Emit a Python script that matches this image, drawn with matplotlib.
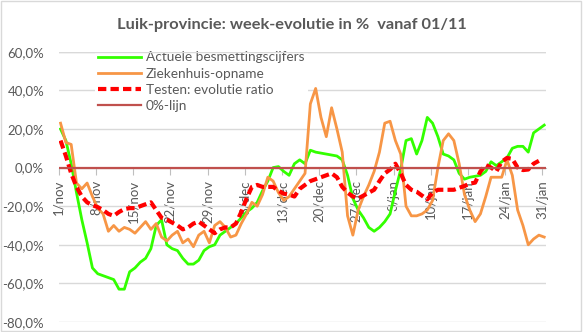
import matplotlib
matplotlib.use('Agg')
import matplotlib.pyplot as plt
import matplotlib.ticker as ticker
from matplotlib.patches import Rectangle
import numpy as np

plt.rcParams['font.family'] = ['Lato', 'DejaVu Sans']

# day 0 = 1 november, one value per day up to 31 januari
week_labels = ['1/nov', '8/nov', '15/nov', '22/nov', '29/nov', '6/dec', '13/dec',
               '20/dec', '27/dec', '3/jan', '10/jan', '17/jan', '24/jan', '31/jan']

besmettingen = [20, 14, 2, -13, -27, -39, -52, -55, -56, -57,
                -58, -63, -63, -54, -52, -49, -47, -42, -30, -27,
                -40, -42, -43, -47, -50, -50, -48, -43, -41, -40,
                -35, -33, -31, -29, -26, -23, -21, -18, -12, -7,
                0, 0.5, -2, -4, 2, 4, 2, 9, 8, 7.5,
                7, 6.5, 6, 4, -4, -16, -22, -26, -31, -33,
                -31, -28, -24, -12, -1, 14, 15, 7, 14, 26,
                23, 16, 7, 6, 4, -3, -6, -5, -4.5, -4,
                -2, 3, 1, 3, 5, 10, 11, 11, 8, 18,
                20, 22]

ziekenhuis = [23, 13, 12, -8, -11, -8, -15, -21, -24, -33,
              -30, -33, -31, -32, -34, -31, -28, -32, -29, -36,
              -38, -35, -33, -39, -37, -41, -35, -33, -39, -30,
              -28, -31, -36, -35, -29, -24, -18, -20, -14, -5,
              -7, -13, -17, -15, -11, -7, -3, 33, 41, 26,
              16, 31, 20, 8, -25, -35, -22, -15, -9, -2,
              8, 23, 24, 14, 7, -20, -25, -25, -24, -22,
              -17, 0, 14, 17.5, 14, 2, -14, -22, -28, -24,
              -15, -5, -5, -5, 4, -4, -22, -30, -40, -37,
              -35, -36]

testen = [14, 6, -3, -10, -15, -18, -19.5, -20.5, -22, -24,
          -25, -23, -21.5, -21, -21, -20, -19, -18, -22, -26,
          -27, -28.5, -30, -32, -31, -29, -28, -30, -32, -34,
          -32, -31, -31, -29, -23, -16, -10, -9, -10, -10,
          -10, -12, -13.5, -14, -15, -11, -9, -7, -6, -5,
          -4, -3, -5, -10, -13, -15, -16, -14.5, -13, -11.5,
          -7, -3, -1, 2, -3, -9, -11.5, -12.5, -14.5, -16.5,
          -13, -11.5, -11.5, -11.5, -11.5, -10.5, -9.5, -8.3, -7.8, -2,
          1.3, 0, -2, 3, 5, 4.5, 0, -1.3, -1, 2,
          3.5, np.nan]

nul_lijn = 0

days = np.arange(len(besmettingen)) + 0.35

fig = plt.figure(figsize=(5.84, 3.32), dpi=100)
ax = fig.add_axes([0.1005, 0.0301, 0.834, 0.814])

ax.plot(days, besmettingen, color='#33ff00', lw=2.0, zorder=3,
        label='Actuele besmettingscijfers')
ax.plot(days, ziekenhuis, color='#f79646', lw=2.0, zorder=3,
        label='Ziekenhuis-opname')
ax.plot(days, testen, color='#ff0000', lw=3.0, dashes=(2.0, 1.0),
        dash_capstyle='butt', zorder=3, label='Testen: evolutie ratio')
ax.axhline(nul_lijn, color='#c0504d', lw=1.6, zorder=3, label='0%-lijn')

ax.set_xlim(0, 91.64)
ax.set_ylim(-80, 60)
ax.set_yticks(np.arange(-80, 61, 20))
ax.yaxis.set_major_formatter(ticker.FuncFormatter(
    lambda v, pos: ('%.1f%%' % v).replace('.', ',')))
ax.set_xticks(np.arange(0, 92, 7))
ax.set_xticklabels(week_labels)

ax.set_axisbelow(True)
ax.grid(axis='y', color='#d9d9d9', lw=1.0)
for side in ['left', 'right', 'top']:
    ax.spines[side].set_visible(False)
ax.spines['bottom'].set_position(('data', 0))
ax.spines['bottom'].set_color('#bfbfbf')
ax.tick_params(axis='y', length=0, pad=10.5, labelsize=9.5, labelcolor='#595959')
ax.tick_params(axis='x', length=5, width=0.8, color='#bfbfbf', pad=4,
               labelsize=9.5, labelcolor='#595959', labelrotation=90)

leg = ax.legend(loc='upper left', bbox_to_anchor=(95 / 584, 1 - 48 / 332),
                bbox_transform=fig.transFigure, fontsize=9.8, frameon=True,
                fancybox=False, edgecolor='none', facecolor='white', framealpha=1,
                handlelength=3.16, handletextpad=0.34, labelspacing=0.31,
                borderpad=0.25, borderaxespad=0)
for txt in leg.get_texts():
    txt.set_color('#595959')
leg.set_zorder(5)

# top gridline stays visible above the legend box
ax.axhline(ax.get_yticks()[-1], color='#d9d9d9', lw=1.0, zorder=6)

fig.text(0.5, 1 - 25 / 332, 'Luik-provincie: week-evolutie in %  vanaf 01/11',
         ha='center', va='center', fontsize=11.8, fontweight='bold', color='#595959')

fig.patches.append(Rectangle((0.001, 0.002), 0.994, 0.996, transform=fig.transFigure,
                             fill=False, edgecolor='#d9d9d9', lw=1.0))

fig.savefig('out.png', dpi=100)
